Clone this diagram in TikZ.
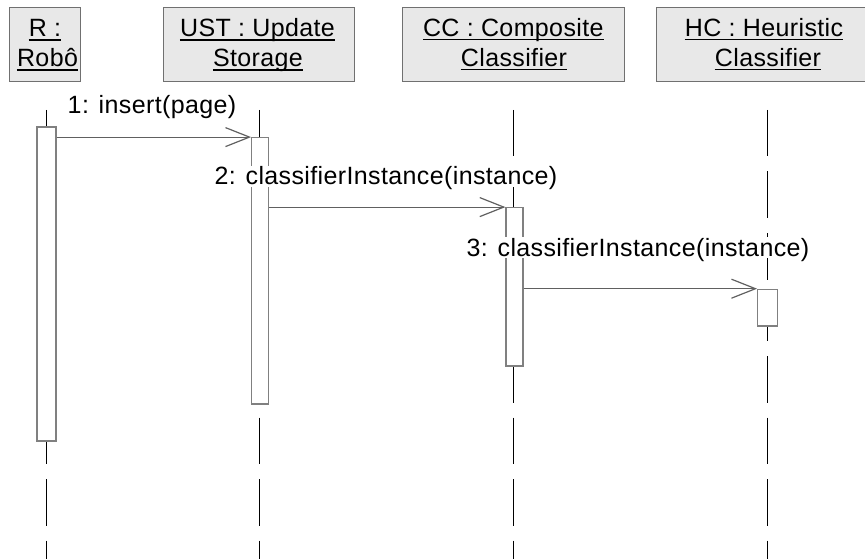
\documentclass[tikz,border=0pt]{standalone}
\usepackage{fontspec}
\setmainfont{Liberation Sans}[LetterSpace=1.5]
\usetikzlibrary{arrows.meta}
\definecolor{hdrfill}{HTML}{E8E8E8}
\definecolor{boxgray}{HTML}{707070}
\definecolor{actgray}{HTML}{808080}
\definecolor{msggray}{HTML}{606060}
\begin{document}
\begin{tikzpicture}[x=1pt,y=-1pt,
  hbox/.style={draw=boxgray, fill=hdrfill, line width=1pt, inner sep=0pt, rectangle, minimum height=74pt},
  htxt/.style={anchor=base, inner sep=0pt, font=\fontsize{25}{30}\selectfont},
  uline/.style={black, line width=1.1pt},
  life/.style={black, line width=0.9pt, dash pattern=on 46.5pt off 15pt},
  act/.style={draw=actgray, fill=white, line width=1.2pt, inner sep=0pt, rectangle},
  msg/.style={draw=msggray, line width=1pt, -{Straight Barb[length=24pt,width=19pt,line width=1.2pt]}},
  lbl/.style={anchor=base, fill=white, inner sep=0pt, text height=19pt, text depth=2pt, font=\fontsize{25}{30}\selectfont}
]
\useasboundingbox (0,0) rectangle (865,559);
\begin{scope}
\clip (0,0) rectangle (865,559);
% header boxes
\node[hbox, minimum width=71pt]  (R)   at (44.5,45) {};
\node[hbox, minimum width=191pt] (UST) at (258.5,45) {};
\node[hbox, minimum width=222pt] (CC)  at (513,45) {};
\node[hbox, minimum width=222pt] (HC)  at (767,45) {};
% header texts
\node[htxt] (R1)   at (45,37)     {R :\hspace{7pt}};
\node[htxt] (R2)   at (47.5,67)   {Robô};
\node[htxt] (UST1) at (257.5,37)  {UST : Update};
\node[htxt] (UST2) at (258,67)    {Storage};
\node[htxt] (CC1)  at (513.3,36.5){CC : Composite};
\node[htxt] (CC2)  at (514,66.5)  {Classifier};
\node[htxt] (HC1)  at (764,36.5)  {HC : Heuristic};
\node[htxt] (HC2)  at (768,66.5)  {Classifier};
\foreach \n in {R1,R2,UST1,UST2,CC1,CC2,HC1,HC2}
  \draw[uline] ([yshift=-3pt]\n.base west) -- ([yshift=-3pt]\n.base east);
% lifelines
\coordinate (tR) at (46.3,110);   \coordinate (bR) at (46.3,559);
\coordinate (tU) at (259,110);    \coordinate (bU) at (259,559);
\coordinate (tC) at (513.5,110);  \coordinate (bC) at (513.5,559);
\coordinate (tH) at (767.5,110);  \coordinate (bH) at (767.5,559);
\draw[life] (tR) -- (bR);
\draw[life] (tU) -- (bU);
\draw[life] (tC) -- (bC);
\draw[life] (tH) -- (bH);
% activations
\node[act, minimum width=19pt, minimum height=314pt]   (aR)   at (46.5,284) {};
\node[act, minimum width=17pt, minimum height=266.3pt] (aUST) at (260.2,270.85) {};
\node[act, minimum width=17pt, minimum height=158.3pt] (aCC)  at (514.5,286.85) {};
\node[act, minimum width=19.6pt, minimum height=36.7pt](aHC)  at (767.5,307.65) {};
% messages
\draw[msg] (aUST.north west -| aR.east) -- (aUST.north west);
\draw[msg] (aCC.north west -| aUST.east) -- (aCC.north west);
\draw[msg] (aHC.north west -| aCC.east) -- (aHC.north west);
% labels
\node[lbl] (l1) at (152,114) {1: insert(page)};
\node[lbl] (l2) at (386,185) {2: classifierInstance(instance)};
\node[lbl] (l3) at (638,256) {3: classifierInstance(instance)};
\end{scope}
\end{tikzpicture}
\end{document}
